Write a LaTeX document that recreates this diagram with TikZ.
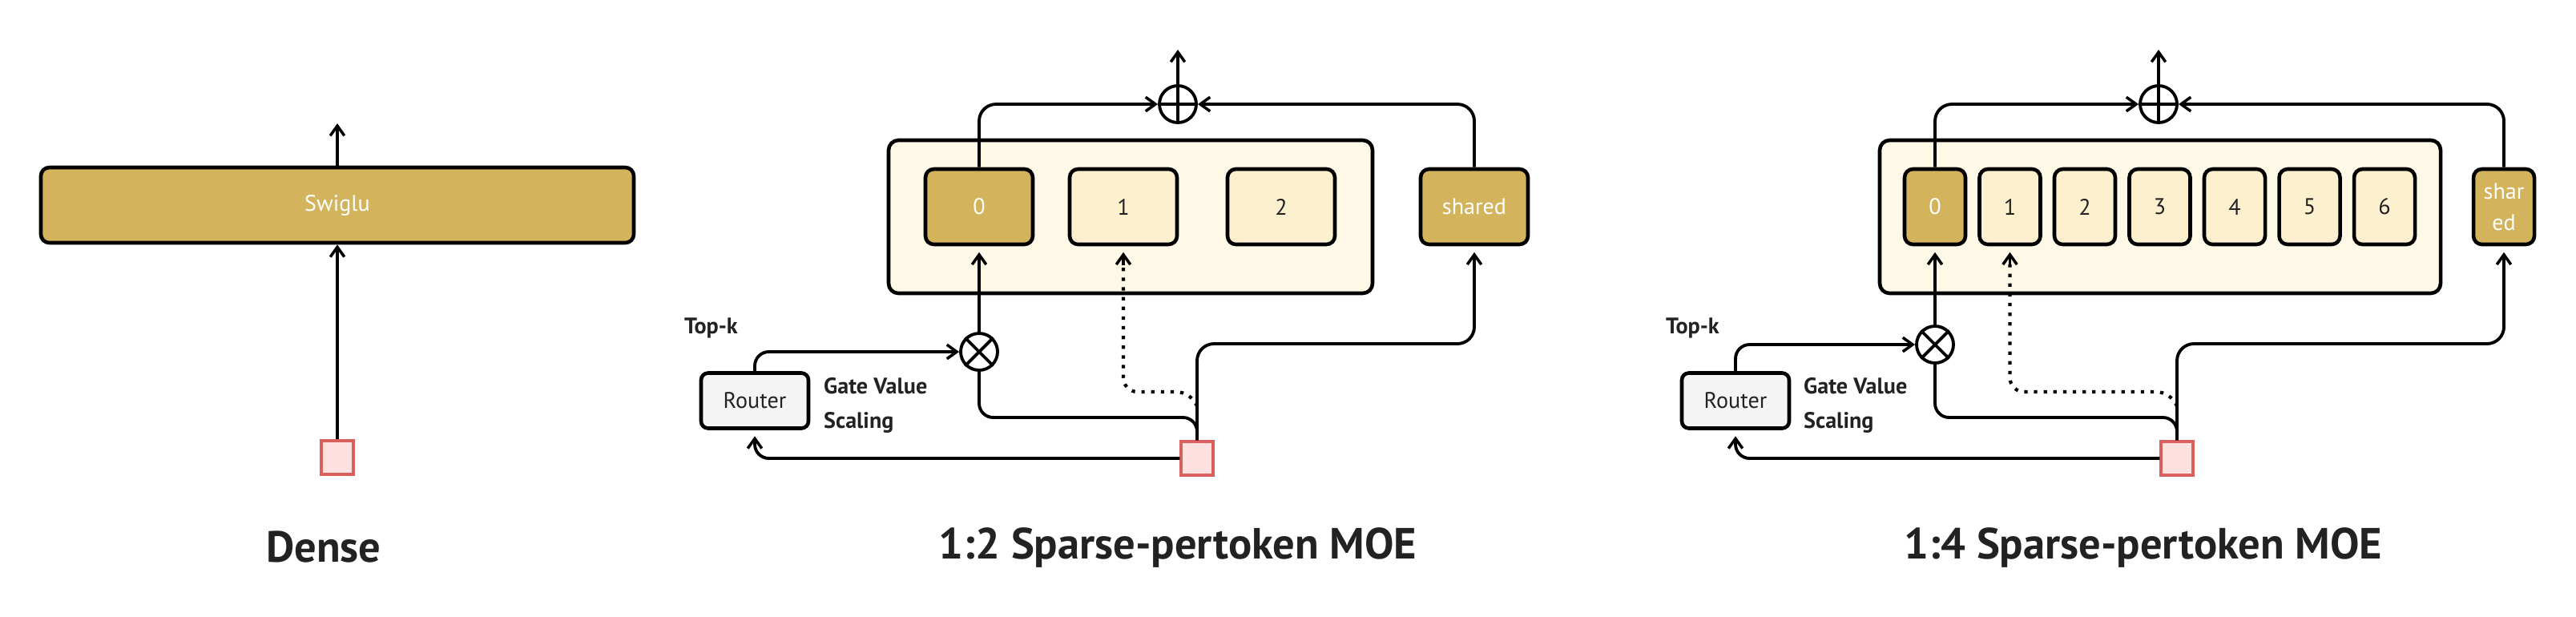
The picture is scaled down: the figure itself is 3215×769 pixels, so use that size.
\documentclass[tikz,border=0pt]{standalone}
\usepackage{fontspec}
\setmainfont{PT Sans}
\usetikzlibrary{arrows.meta}
\definecolor{gold}{HTML}{D3B35B}
\definecolor{lexp}{HTML}{FDF0CF}
\definecolor{outerc}{HTML}{FEF8E6}
\definecolor{routc}{HTML}{F4F4F4}
\definecolor{sqfill}{HTML}{FFE0E0}
\definecolor{sqdraw}{HTML}{D9605C}
\definecolor{txt}{HTML}{222222}
\begin{document}
\begin{tikzpicture}[x=0.02cm,y=-0.02cm,
  ln/.style={line width=2.2pt,draw=black},
  arr/.style={ln,-{Straight Barb[length=7pt,width=10pt,line width=2pt]}},
  dots/.style={line width=2.4pt,dash pattern=on 2.4pt off 4.5pt},
  outerbox/.style={ln,fill=outerc,rounded corners=7pt,line width=2.6pt},
  goldbox/.style={ln,fill=gold,rounded corners=6pt,line width=2.6pt,text=white,font=\fontsize{16}{22}\selectfont,inner sep=0pt,align=center},
  lbox/.style={ln,fill=lexp,rounded corners=6pt,line width=2.6pt,text=txt,font=\fontsize{16}{22}\selectfont,inner sep=0pt},
  router/.style={ln,fill=routc,rounded corners=5pt,line width=2.6pt,minimum width=134*0.02cm,minimum height=69*0.02cm,inner sep=0pt,text=txt,font=\fontsize{16}{20}\selectfont},
  sq/.style={draw=sqdraw,fill=sqfill,line width=2pt,minimum width=40*0.02cm,minimum height=42*0.02cm,inner sep=0pt},
  op/.style={circle,ln,fill=white,minimum size=46*0.02cm,inner sep=0pt},
  bold/.style={font=\bfseries\fontsize{16}{22}\selectfont,text=txt},
  title/.style={font=\bfseries\fontsize{31}{36}\selectfont,text=txt}]
\useasboundingbox (0,0) rectangle (3215,769);
% ---------- Dense
\node[goldbox,minimum width=740*0.02cm,minimum height=94*0.02cm] (sw) at (421,256) {Swiglu};
\node[sq] (dsq) at (421,571) {};
\coordinate (dtop) at (421,154);
\draw[arr] (dsq.north) -- (sw.south);
\draw[arr] (sw.north) -- (dtop);
\node[title] (t1) at (404,683) {Dense};
% ---------- 1:2
\node[outerbox,minimum width=604*0.02cm,minimum height=191*0.02cm] (ob2) at (1411,270.5) {};
\foreach \n/\x in {1/1402,2/1599}{\node[lbox,minimum width=134*0.02cm,minimum height=94*0.02cm] (m\n) at (\x,258) {\n};}
\node[goldbox,minimum width=134*0.02cm,minimum height=94*0.02cm] (m0) at (1222,258) {0};
\node[goldbox,minimum width=134*0.02cm,minimum height=94*0.02cm] (msh) at (1840,258) {shared};
\node[op] (mplus) at (1470,130) {};
\draw[ln] (mplus.north) -- (mplus.south) (mplus.west) -- (mplus.east);
\coordinate (mout) at (1470,62);
\node[op] (mot) at (1222,439) {};
\draw[ln] (mot.north west) -- (mot.south east) (mot.north east) -- (mot.south west);
\node[router] (mr) at (942,500) {Router};
\node[sq] (msq) at (1494,572) {};
\node[bold,anchor=south west] (mtk) at (848,428) {Top-k};
\node[bold,anchor=west,align=left] (mgv) at (1022,506) {Gate Value\\[2pt]Scaling};
\draw[arr] (mplus.north) -- (mout);
\draw[arr,rounded corners=12pt] (m0.north) |- (mplus.west);
\draw[arr,rounded corners=12pt] (msh.north) |- (mplus.east);
\draw[arr] (mot.north) -- ([yshift=-0.15cm]m0.south);
\draw[arr,rounded corners=10pt] (mr.north) |- (mot.west);
\draw[arr,rounded corners=10pt] (msq.west) -| ([yshift=-0.15cm]mr.south);
\draw[ln,rounded corners=10pt] (msq.north) -- (1494,521) -- (1222,521) -- (mot.south);
\draw[arr,rounded corners=12pt] (msq.north) -- (1494,429) -- (1840,429) -- ([yshift=-0.15cm]msh.south);
\coordinate (md) at (1494,507);
\draw[dots,rounded corners=10pt] (md) -- (1486,489) -- (1402,489) -- (1402,330);
\draw[arr] (1402,331) -- ([yshift=-0.15cm]m1.south);
\node[title] (t2) at (1470,683) {1:2 Sparse-pertoken MOE};
% ---------- 1:4
\node[outerbox,minimum width=700*0.02cm,minimum height=191*0.02cm] (ob4) at (2696,270.5) {};
\node[goldbox,minimum width=76*0.02cm,minimum height=94*0.02cm] (r0) at (2415,258) {0};
\foreach \n/\x in {1/2508.5,2/2602,3/2695.5,4/2789,5/2882.5,6/2976}{\node[lbox,minimum width=76*0.02cm,minimum height=94*0.02cm] (r\n) at (\x,258) {\n};}
\node[goldbox,minimum width=76*0.02cm,minimum height=94*0.02cm] (rsh) at (3125,258) {shar\\ed};
\node[op] (rplus) at (2694,130) {};
\draw[ln] (rplus.north) -- (rplus.south) (rplus.west) -- (rplus.east);
\coordinate (rout) at (2694,62);
\node[op] (rot) at (2415,430) {};
\draw[ln] (rot.north west) -- (rot.south east) (rot.north east) -- (rot.south west);
\node[router] (rr) at (2166,500) {Router};
\node[sq] (rsq) at (2717,572) {};
\node[bold,anchor=south west] (rtk) at (2073,428) {Top-k};
\node[bold,anchor=west,align=left] (rgv) at (2245,506) {Gate Value\\[2pt]Scaling};
\draw[arr] (rplus.north) -- (rout);
\draw[arr,rounded corners=12pt] (r0.north) |- (rplus.west);
\draw[arr,rounded corners=12pt] (rsh.north) |- (rplus.east);
\draw[arr] (rot.north) -- ([yshift=-0.15cm]r0.south);
\draw[arr,rounded corners=10pt] (rr.north) |- (rot.west);
\draw[arr,rounded corners=10pt] (rsq.west) -| ([yshift=-0.15cm]rr.south);
\draw[ln,rounded corners=10pt] (rsq.north) -- (2717,521) -- (2415,521) -- (rot.south);
\draw[arr,rounded corners=12pt] (rsq.north) -- (2717,429) -- (3125,429) -- ([yshift=-0.15cm]rsh.south);
\coordinate (rd) at (2717,507);
\draw[dots,rounded corners=10pt] (rd) -- (2709,489) -- (2508.5,489) -- (2508.5,330);
\draw[arr] (2508.5,331) -- ([yshift=-0.15cm]r1.south);
\node[title] (t3) at (2675,683) {1:4 Sparse-pertoken MOE};
\end{tikzpicture}
\end{document}
